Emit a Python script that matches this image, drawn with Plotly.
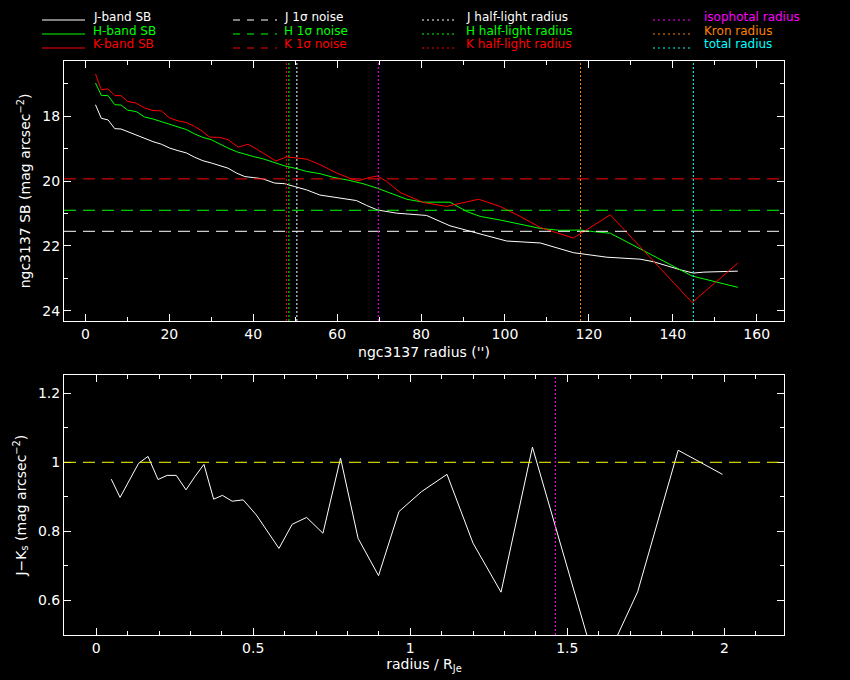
import plotly.graph_objects as go

# surface brightness profiles, radius in arcsec, SB in mag arcsec^-2
r_j = [2.4, 3.8, 5.4, 7.0, 8.5, 10.1, 12.1, 14.1, 16.1, 18.1, 20.1, 22.1, 24.1, 26.0,
       28.0, 30.0, 32.0, 34.0, 36.0, 38.0, 40.0, 42.3, 45.1, 47.5, 49.9, 52.7, 55.9,
       59.9, 64.6, 67.0, 69.6, 74.2, 81.3, 86.9, 90.9, 94.9, 100.4, 108.4, 116.3,
       124.3, 132.2, 135.4, 141.8, 144.9, 147.4, 155.5]
sb_j = [17.64, 18.06, 18.11, 18.38, 18.39, 18.47, 18.57, 18.69, 18.78, 18.86, 18.98,
        19.06, 19.13, 19.26, 19.37, 19.44, 19.51, 19.60, 19.75, 19.86, 19.89, 19.93,
        20.06, 20.08, 20.17, 20.27, 20.43, 20.51, 20.60, 20.75, 20.89, 20.99, 21.06,
        21.38, 21.51, 21.66, 21.85, 21.91, 22.21, 22.35, 22.41, 22.49, 22.74, 22.84,
        22.81, 22.78]

r_h = [2.4, 3.8, 5.4, 7.0, 8.5, 10.1, 12.1, 14.1, 16.1, 18.1, 20.1, 22.1, 24.1, 26.0,
       28.0, 30.0, 32.0, 34.0, 36.0, 38.0, 40.0, 42.3, 45.1, 47.5, 49.9, 52.7, 55.9,
       59.0, 63.0, 66.2, 69.6, 72.6, 76.6, 80.5, 86.9, 90.9, 94.1, 98.8, 103.6, 108.4,
       113.1, 117.9, 121.1, 125.1, 144.6, 148.2, 155.5]
sb_h = [16.97, 17.35, 17.36, 17.64, 17.65, 17.81, 17.85, 18.02, 18.08, 18.16, 18.26,
        18.34, 18.41, 18.54, 18.65, 18.72, 18.86, 18.98, 19.09, 19.17, 19.24, 19.31,
        19.44, 19.53, 19.60, 19.70, 19.77, 19.88, 19.98, 20.08, 20.22, 20.37, 20.56,
        20.65, 20.65, 20.94, 21.09, 21.20, 21.33, 21.46, 21.52, 21.51, 21.56, 21.61,
        22.93, 23.05, 23.28]

r_k = [2.4, 3.8, 5.4, 7.0, 8.5, 10.1, 12.1, 14.1, 16.1, 18.1, 20.1, 22.1, 24.1, 26.0,
       28.0, 29.6, 32.0, 34.0, 36.4, 38.8, 40.8, 43.2, 45.4, 47.9, 49.5, 52.7, 55.9,
       59.9, 63.0, 65.0, 67.0, 69.6, 71.8, 75.0, 80.5, 86.1, 88.5, 93.7, 98.8, 103.6,
       108.4, 116.3, 125.1, 144.6, 155.5]
sb_k = [16.69, 17.18, 17.15, 17.36, 17.36, 17.54, 17.59, 17.74, 17.82, 17.83, 18.05,
        18.14, 18.19, 18.31, 18.47, 18.64, 18.65, 18.72, 18.95, 18.86, 19.01, 19.19,
        19.38, 19.25, 19.27, 19.32, 19.49, 19.75, 19.91, 19.99, 19.91, 19.84, 20.01,
        20.35, 20.66, 20.78, 20.71, 20.56, 20.78, 21.09, 21.43, 21.76, 21.04, 23.75,
        22.53]

# 1 sigma noise levels and radii (J, H, K)
noise_sb = [21.55, 20.90, 19.93]
half_light_r = [50.4, 48.5, 47.9]
iso_r = 69.8
kron_r = 118.0
total_r = 144.9

# J-Ks colour profile vs radius / R_Je
r_norm = [0.048, 0.076, 0.135, 0.165, 0.197, 0.226, 0.255, 0.286, 0.314, 0.343, 0.374,
          0.402, 0.433, 0.468, 0.510, 0.582, 0.624, 0.670, 0.722, 0.778, 0.834, 0.899,
          0.964, 1.036, 1.117, 1.200, 1.289, 1.389, 1.600, 1.724, 1.853, 1.994]
j_k = [0.951, 0.898, 0.997, 1.017, 0.950, 0.962, 0.962, 0.920, 0.958, 0.994, 0.893,
       0.904, 0.887, 0.891, 0.847, 0.750, 0.820, 0.840, 0.794, 1.012, 0.779, 0.671,
       0.857, 0.915, 0.965, 0.765, 0.623, 1.044, 0.380, 0.624, 1.035, 0.965]
jk_ref = 1.0
iso_norm = 1.462

band_colors = ["#ffffff", "#00ff00", "#ff0000"]
FONT = "DejaVu Sans"

fig = go.Figure()

for r, sb, c in zip([r_j, r_h, r_k], [sb_j, sb_h, sb_k], band_colors):
    fig.add_trace(go.Scatter(x=r, y=sb, mode="lines", line=dict(color=c, width=1),
                             xaxis="x", yaxis="y", showlegend=False))

fig.add_trace(go.Scatter(x=r_norm, y=j_k, mode="lines", line=dict(color="white", width=1),
                         xaxis="x2", yaxis="y2", showlegend=False))

# noise levels
for v, c in zip(noise_sb, band_colors):
    fig.add_shape(type="line", xref="x domain", x0=0, x1=1, yref="y", y0=v, y1=v,
                  line=dict(color=c, width=1, dash="12px,7px"))

# radius markers
for v, c in zip(half_light_r, band_colors):
    fig.add_shape(type="line", xref="x", x0=v, x1=v, yref="y domain", y0=0, y1=1,
                  line=dict(color=c, width=1, dash="2px,2px"))
for v, c in zip([iso_r, kron_r, total_r], ["#ff00ff", "#ff8000", "#00ffff"]):
    fig.add_shape(type="line", xref="x", x0=v, x1=v, yref="y domain", y0=0, y1=1,
                  line=dict(color=c, width=1, dash="2px,2px"))

fig.add_shape(type="line", xref="x2 domain", x0=0, x1=1, yref="y2", y0=jk_ref, y1=jk_ref,
              line=dict(color="#ffff00", width=1, dash="12px,7px"))
fig.add_shape(type="line", xref="x2", x0=iso_norm, x1=iso_norm, yref="y2 domain", y0=0, y1=1,
              line=dict(color="#ff00ff", width=1, dash="2px,2px"))

# legend drawn by hand in four columns (pixel layout -> paper coords)
L, R, T, B = 64, 66, 61, 45
W, H = 850 - L - R, 680 - T - B


def px(x):
    return (x - L) / W


def py(y):
    return (680 - B - y) / H


legend_cols = [
    (42, 85, 92, "solid", ["J-band SB", "H-band SB", "K-band SB"], band_colors),
    (233, 277, 283, "7px,7px", ["J 1σ noise", "H 1σ noise", "K 1σ noise"], band_colors),
    (422, 457, 465, "2px,3px", ["J half-light radius", "H half-light radius",
                                "K half-light radius"], band_colors),
    (653, 693, 703, "2px,3px", ["isophotal radius", "Kron radius", "total radius"],
     ["#ff00ff", "#ff8000", "#00ffff"]),
]
rows_text = [17, 30.5, 44]
rows_line = [20, 34, 48]
for x0, x1, xt, dash, labels, cols in legend_cols:
    for i, (lab, c) in enumerate(zip(labels, cols)):
        fig.add_shape(type="line", xref="paper", yref="paper", x0=px(x0), x1=px(x1),
                      y0=py(rows_line[i]), y1=py(rows_line[i]),
                      line=dict(color=c, width=1, dash=dash))
        fig.add_annotation(xref="paper", yref="paper", x=px(xt), y=py(rows_text[i]),
                           text=lab, showarrow=False, xanchor="left", yanchor="middle",
                           borderpad=0, font=dict(color=c, size=12, family=FONT))

axis_style = dict(showline=True, linecolor="white", linewidth=1, mirror="allticks",
                  ticks="inside", ticklen=7, tickcolor="white", tickwidth=1,
                  showgrid=False, zeroline=False, automargin=False,
                  tickfont=dict(color="white", size=14, family=FONT),
                  title_font=dict(color="white", size=14, family=FONT))

fig.update_layout(
    width=850, height=680,
    template="none",
    paper_bgcolor="black", plot_bgcolor="black",
    margin=dict(l=L, r=R, t=T, b=B),
    showlegend=False,
    xaxis=dict(axis_style, domain=[0, 1], anchor="y", range=[-5.1, 166.5], dtick=20, tick0=0,
               minor=dict(dtick=10, ticks="inside", ticklen=4, tickcolor="white"),
               title=dict(text="ngc3137 radius ('')", standoff=6)),
    yaxis=dict(axis_style, domain=[(680 - B - 321) / H, 1], anchor="x",
               range=[24.32, 16.29], dtick=2, tick0=0,
               minor=dict(dtick=1, ticks="inside", ticklen=4, tickcolor="white"),
               title=dict(text="ngc3137 SB (mag arcsec<sup>−2</sup>)", standoff=8)),
    xaxis2=dict(axis_style, domain=[0, 1], anchor="y2", range=[-0.1025, 2.19], dtick=0.5,
                tick0=0, minor=dict(dtick=0.1, ticks="inside", ticklen=4, tickcolor="white"),
                title=dict(text="radius / R<sub>Je</sub>", standoff=1)),
    yaxis2=dict(axis_style, domain=[0, (680 - B - 375.3) / H], anchor="x2",
                range=[0.4987, 1.2525], dtick=0.2, tick0=0,
                minor=dict(dtick=0.1, ticks="inside", ticklen=4, tickcolor="white"),
                title=dict(text="J−K<sub>s</sub> (mag arcsec<sup>−2</sup>)", standoff=8)),
)

# drop the page margin so the black figure fills the window
fig.write_html("out.html", config={"displayModeBar": False},
               post_script="document.body.style.margin='0';"
                           "document.body.style.background='black';")
